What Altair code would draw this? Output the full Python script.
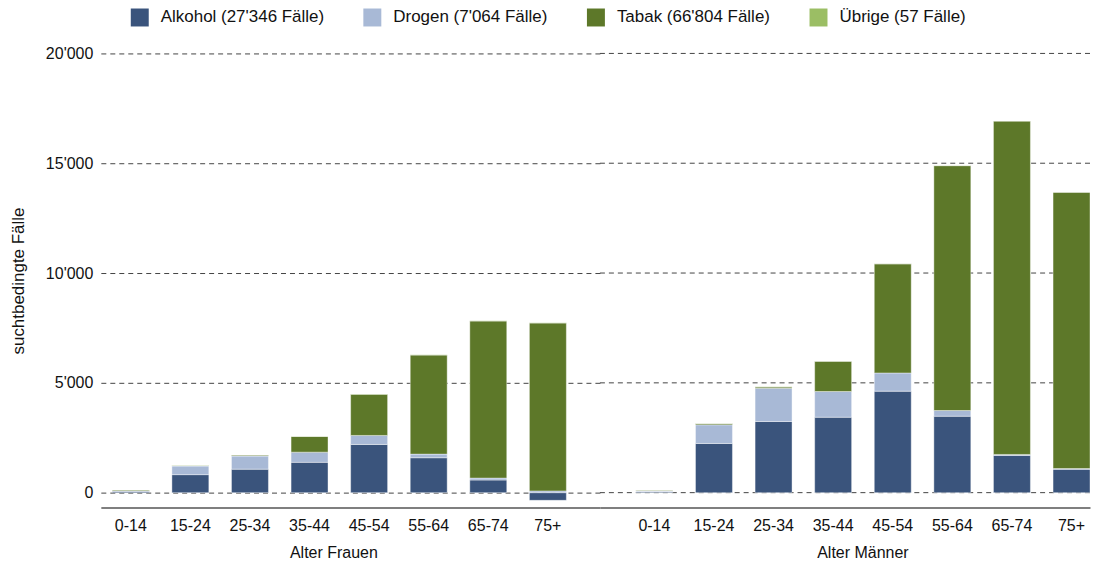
import altair as alt
import pandas as pd

ages = ["0-14", "15-24", "25-34", "35-44", "45-54", "55-64", "65-74", "75+"]
categories = ["Alkohol", "Drogen", "Tabak", "Übrige"]
category_labels = ["Alkohol (27'346 Fälle)", "Drogen (7'064 Fälle)",
                   "Tabak (66'804 Fälle)", "Übrige (57 Fälle)"]
colors = ["#3a547c", "#a8b9d6", "#5d7829", "#9bbe64"]

frauen_alkohol = [60, 820, 1070, 1380, 2195, 1590, 575, -350]
frauen_drogen = [20, 390, 595, 465, 410, 165, 90, 80]
frauen_tabak = [40, 30, 45, 715, 1880, 4515, 7155, 7650]
frauen_uebrige = [2, 3, 3, 4, 5, 4, 3, 2]

maenner_alkohol = [40, 2240, 3240, 3435, 4620, 3480, 1695, 1060]
maenner_drogen = [30, 850, 1515, 1170, 830, 260, 45, 40]
maenner_tabak = [40, 60, 60, 1380, 4970, 11150, 15180, 12580]
maenner_uebrige = [4, 4, 4, 4, 5, 4, 4, 2]

grid_values = [0, 5000, 10000, 15000, 20000]

groups = {
    "Frauen": [frauen_alkohol, frauen_drogen, frauen_tabak, frauen_uebrige],
    "Männer": [maenner_alkohol, maenner_drogen, maenner_tabak, maenner_uebrige],
}

rows = []
for gruppe, series in groups.items():
    for k, values in enumerate(series):
        for i, age in enumerate(ages):
            rows.append({"gruppe": gruppe, "alter": age, "kategorie": category_labels[k],
                         "ord": k, "faelle": values[i]})
df = pd.DataFrame(rows)
grid_df = pd.DataFrame({"v": grid_values})

FONT = "Liberation Sans"
TXT = "#111111"
yfmt = "replace(format(datum.value, ','), ',', \"'\")"
yscale = alt.Scale(domain=[-680, 20000], nice=False, zero=False)

color = alt.Color(
    "kategorie:N",
    scale=alt.Scale(domain=category_labels, range=colors),
    legend=alt.Legend(
        title=None, orient="none", legendX=30, legendY=-45, direction="horizontal",
        symbolType="square", symbolSize=324, symbolStrokeWidth=0, symbolOpacity=1,
        labelFontSize=17, labelFont=FONT, labelColor=TXT, labelOffset=12,
        labelLimit=400, columnPadding=39,
    ),
)


def xaxis(title, title_x):
    return alt.Axis(title=title, titleX=title_x, labelAngle=0, ticks=False,
                    domainColor="#555555", domainWidth=1.5,
                    labelFontSize=16, labelFont=FONT, labelColor=TXT, labelPadding=10,
                    titleFontSize=16, titleFont=FONT, titleColor=TXT,
                    titleFontWeight="normal", titlePadding=11, grid=False)


def bars(gruppe, pad_outer, align, title, title_x, yaxis):
    return alt.Chart(df).transform_filter(alt.datum.gruppe == gruppe).mark_bar(
        stroke="white", strokeOpacity=0.4, strokeWidth=1
    ).encode(
        x=alt.X("alter:N", sort=ages,
                scale=alt.Scale(paddingInner=0.38, paddingOuter=pad_outer, align=align),
                axis=xaxis(title, title_x)),
        y=alt.Y("faelle:Q", stack="zero", scale=yscale, axis=yaxis),
        color=color,
        order=alt.Order("ord:Q", sort="ascending"),
    )


yaxis_f = alt.Axis(values=grid_values, labelExpr=yfmt, title="suchtbedingte Fälle",
                   labelFontSize=16, labelFont=FONT, labelColor=TXT, labelPadding=8,
                   titleFontSize=17, titleFont=FONT, titleColor=TXT,
                   titleFontWeight="normal", titlePadding=18,
                   ticks=False, domain=False, grid=True, gridDash=[5, 4],
                   gridColor="#444444", gridWidth=1)

frauen = bars("Frauen", 0.378, 0.255, "Alter Frauen", 233, yaxis_f).properties(
    width=500, height=455)

grid_m = alt.Chart(grid_df).mark_rule(strokeDash=[5, 4], color="#444444", strokeWidth=1).encode(
    y=alt.Y("v:Q", scale=yscale, axis=None)
)
maenner = alt.layer(
    grid_m, bars("Männer", 0.302, 1.0, "Alter Männer", 263, None)
).properties(width=491, height=455)

chart = alt.hconcat(frauen, maenner, spacing=0, bounds="flush").properties(
    padding={"left": 0, "top": 0, "right": 0, "bottom": -2},
    background="white",
).configure_view(stroke="transparent")

chart.save("out.html", embed_options={"renderer": "svg", "actions": False})
